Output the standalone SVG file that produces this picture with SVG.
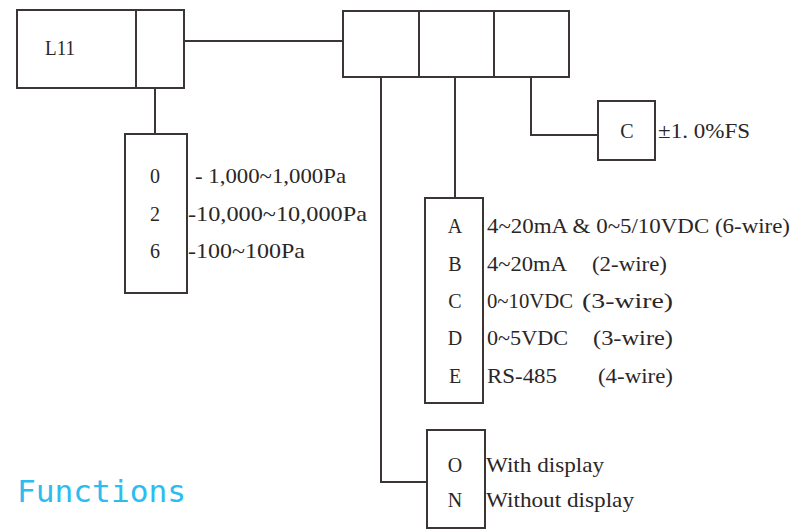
<svg xmlns="http://www.w3.org/2000/svg" width="791" height="530" viewBox="0 0 791 530">
<style>
.b{fill:#fff;stroke:#3b3535;stroke-width:2}
.c{fill:none;stroke:#3b3535;stroke-width:2}
.t{font-family:"Liberation Serif","Times New Roman",serif;fill:#2b2626;font-size:22px}
.l{font-family:"Liberation Serif","Times New Roman",serif;fill:#2b2626;font-size:20px;text-anchor:middle}
.f{font-family:"DejaVu Sans Mono","Liberation Mono",monospace;fill:#2bbcf0;font-size:30px;font-weight:200}
</style>
<rect width="791" height="530" fill="#fff"/>
<g id="connectors">
<polyline class="c" points="184,41 343,41"/>
<polyline class="c" points="155,88 155,134"/>
<polyline class="c" points="381,77 381,482 427,482"/>
<polyline class="c" points="455,77 455,198"/>
<polyline class="c" points="531,77 531,135 598,135"/>
</g>
<g id="model">
<rect class="b" x="17" y="10" width="167" height="78"/>
<line class="c" x1="136" y1="10" x2="136" y2="88"/>
<text class="t" x="45" y="55" font-size="17" textLength="30" lengthAdjust="spacingAndGlyphs">L11</text>
</g>
<g id="options">
<rect class="b" x="343" y="11" width="226" height="66"/>
<line class="c" x1="419" y1="11" x2="419" y2="77"/>
<line class="c" x1="494" y1="11" x2="494" y2="77"/>
</g>
<g id="range">
<rect class="b" x="125" y="134" width="62" height="159"/>
<text class="l" x="155" y="183">0</text>
<text class="l" x="155" y="221">2</text>
<text class="l" x="155" y="258">6</text>
<text class="t" x="195" y="183" textLength="151" lengthAdjust="spacingAndGlyphs">- 1,000~1,000Pa</text>
<text class="t" x="188" y="221" textLength="179" lengthAdjust="spacingAndGlyphs">-10,000~10,000Pa</text>
<text class="t" x="188" y="258" textLength="117" lengthAdjust="spacingAndGlyphs">-100~100Pa</text>
</g>
<g id="accuracy">
<rect class="b" x="598" y="101" width="57" height="59"/>
<text class="l" x="627" y="138">C</text>
<text class="t" x="658" y="138" textLength="92" lengthAdjust="spacingAndGlyphs">±1. 0%FS</text>
</g>
<g id="output">
<rect class="b" x="425" y="198" width="58" height="205"/>
<text class="l" x="455" y="233">A</text>
<text class="l" x="455" y="271">B</text>
<text class="l" x="455" y="308">C</text>
<text class="l" x="455" y="345">D</text>
<text class="l" x="455" y="383">E</text>
<text class="t" x="487" y="233" textLength="303" lengthAdjust="spacingAndGlyphs">4~20mA &amp; 0~5/10VDC (6-wire)</text>
<text class="t" x="487" y="271" textLength="80" lengthAdjust="spacingAndGlyphs">4~20mA</text>
<text class="t" x="592" y="271" textLength="75" lengthAdjust="spacingAndGlyphs">(2-wire)</text>
<text class="t" x="487" y="308" textLength="86" lengthAdjust="spacingAndGlyphs">0~10VDC</text>
<text class="t" x="582" y="308" textLength="91" lengthAdjust="spacingAndGlyphs">(3-wire)</text>
<text class="t" x="487" y="345" textLength="81" lengthAdjust="spacingAndGlyphs">0~5VDC</text>
<text class="t" x="593" y="345" textLength="80" lengthAdjust="spacingAndGlyphs">(3-wire)</text>
<text class="t" x="487" y="383" textLength="70" lengthAdjust="spacingAndGlyphs">RS-485</text>
<text class="t" x="598" y="383" textLength="75" lengthAdjust="spacingAndGlyphs">(4-wire)</text>
</g>
<g id="display">
<rect class="b" x="427" y="430" width="58" height="98"/>
<text class="l" x="455" y="472">O</text>
<text class="l" x="455" y="507">N</text>
<text class="t" x="486" y="472" textLength="118" lengthAdjust="spacingAndGlyphs">With display</text>
<text class="t" x="486" y="507" textLength="148" lengthAdjust="spacingAndGlyphs">Without display</text>
</g>
<text class="f" x="17" y="502" textLength="169" lengthAdjust="spacingAndGlyphs">Functions</text>
</svg>
